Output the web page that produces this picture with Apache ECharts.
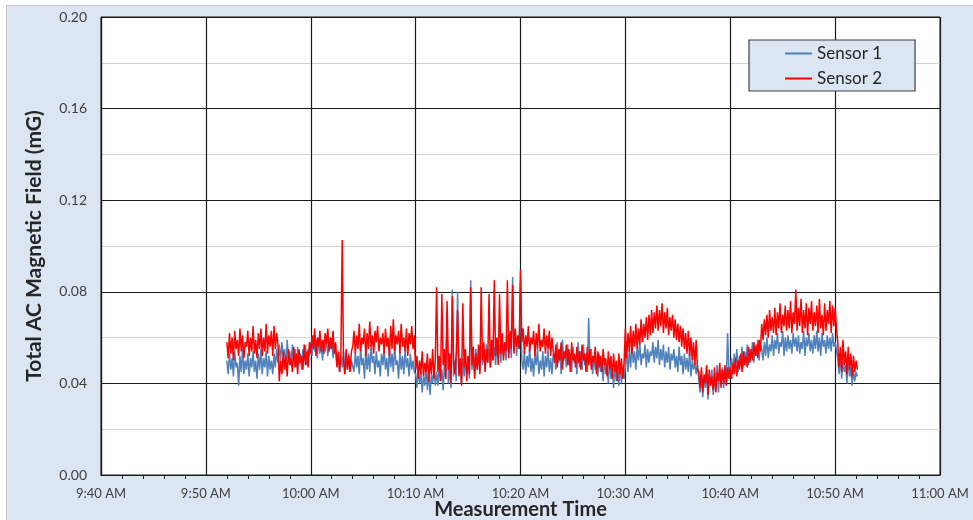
<!DOCTYPE html>
<html>
<head>
<meta charset="utf-8">
<script src="https://cdn.jsdelivr.net/npm/echarts@6/dist/echarts.min.js"></script>
<style>
  html, body { margin: 0; padding: 0; background: #fff; }
  #chart {
    position: absolute; left: 6px; top: 5px; width: 967px; height: 515px;
    box-sizing: border-box; border-left: 1px solid #c6c6c6; border-top: 1px solid #c6c6c6;
    background: #dce6f2;
  }
</style>
</head>
<body>
<div id="chart"></div>
<script>
// time axis in minutes after midnight, samples every 7.5 s from 9:52 AM
const startMinute = 592
const stepMinutes = 0.125
const axisMin = 580
const axisMax = 660
const yTicks = [0, 0.04, 0.08, 0.12, 0.16, 0.2]

// Sensor 1 (mG)
const sensor1 = [
  0.050,0.044,0.053,0.046,0.051,0.043,0.054,0.047,0.049,0.039,0.052,0.045,0.055,0.044,0.050,0.046,0.053,0.043,0.051,0.047,
  0.054,0.045,0.050,0.042,0.053,0.046,0.055,0.044,0.051,0.047,0.054,0.043,0.052,0.046,0.050,0.044,0.053,0.047,0.055,0.049,
  0.057,0.050,0.058,0.052,0.055,0.047,0.059,0.051,0.054,0.048,0.057,0.050,0.055,0.047,0.056,0.049,0.053,0.046,0.055,0.050,0.057,0.048,0.055,0.052,
  0.058,0.052,0.061,0.054,0.059,0.051,0.060,0.053,0.057,0.050,0.059,0.054,0.061,0.052,0.058,0.055,0.060,0.051,0.057,0.053,
  0.048,0.053,0.045,0.052,0.047,0.054,0.044,0.051,0.046,0.053,0.045,0.050,
  0.050,0.045,0.054,0.047,0.052,0.044,0.056,0.048,0.051,0.042,0.055,0.046,0.053,0.045,0.057,0.049,0.052,0.044,0.054,0.047,0.050,0.043,0.053,0.048,
  0.055,0.046,0.051,0.043,0.056,0.047,0.053,0.045,0.057,0.048,0.050,0.042,0.054,0.046,0.052,0.044,0.055,0.047,0.051,0.043,0.053,0.046,0.050,0.045,
  0.044,0.038,0.047,0.040,0.045,0.036,0.043,0.039,0.048,0.037,0.046,0.035,0.044,0.040,0.047,0.039,
  0.045,0.039,0.048,0.041,0.046,0.037,0.049,0.042,0.071,0.040,0.047,0.038,0.081,0.043,0.050,0.041,0.080,0.044,0.048,0.040,
  0.051,0.043,0.049,0.045,0.052,0.042,0.085,0.046,0.053,0.044,0.055,0.047,0.052,0.045,0.056,0.048,0.054,0.046,0.057,0.049,
  0.055,0.047,0.058,0.050,0.056,0.048,0.059,0.051,0.057,0.049,0.060,0.052,0.058,0.050,0.061,0.053,0.059,0.051,0.0865,0.054,
  0.062,0.052,0.060,0.055,
  0.085,0.050,0.046,0.054,0.044,0.052,0.047,0.056,0.045,0.051,0.043,0.053,0.048,0.055,0.044,0.050,0.046,0.054,0.043,0.052,0.047,0.055,0.045,0.051,0.044,0.053,
  0.052,0.046,0.058,0.049,0.055,0.044,0.059,0.050,0.054,0.047,0.057,0.048,0.053,0.045,0.056,0.049,0.052,0.044,0.058,0.047,
  0.054,0.046,0.057,0.048,0.053,0.045,0.0685,0.049,0.055,0.044,0.052,0.046,0.050,0.043,0.053,0.045,0.049,0.041,0.051,0.044,
  0.048,0.040,0.050,0.042,0.047,0.038,0.049,0.041,0.046,0.039,0.048,0.040,0.047,0.042,
  0.048,0.053,0.045,0.055,0.047,0.057,0.049,0.054,0.046,0.056,0.050,0.058,0.048,0.053,0.051,0.057,0.047,0.055,0.049,0.054,
  0.052,0.058,0.049,0.056,0.051,0.059,0.048,0.055,0.050,0.057,0.047,0.054,0.049,0.056,0.046,0.053,0.050,0.055,0.047,0.052,
  0.045,0.056,0.048,0.052,0.044,0.053,0.046,0.051,0.045,0.054,0.043,0.050,0.046,0.049,0.044,0.048,
  0.042,0.036,0.045,0.034,0.043,0.038,0.047,0.033,0.044,0.039,0.046,0.035,0.043,0.037,0.048,0.036,0.045,0.040,0.047,0.038,0.046,0.041,0.062,0.044,
  0.046,0.051,0.044,0.053,0.047,0.055,0.045,0.052,0.048,0.056,0.047,0.054,0.050,0.057,0.048,0.055,0.051,0.058,0.049,0.056,0.052,0.059,0.050,0.057,
  0.055,0.050,0.058,0.052,0.060,0.051,0.057,0.054,0.061,0.052,0.059,0.055,0.062,0.053,0.058,0.056,0.063,0.052,0.060,0.054,
  0.061,0.055,0.059,0.053,0.062,0.056,0.060,0.054,0.061,0.053,0.058,0.055,0.063,0.052,0.060,0.056,0.062,0.054,0.059,0.053,
  0.061,0.055,0.063,0.054,0.060,0.052,0.062,0.056,0.059,0.053,0.061,0.055,0.060,0.054,0.062,0.056,0.058,0.055,
  0.051,0.044,0.053,0.042,0.050,0.045,0.048,0.040,0.052,0.043,0.047,0.039,0.046,0.041,0.045,0.043
]

// Sensor 2 (mG)
const sensor2 = [
  0.058,0.051,0.062,0.053,0.060,0.050,0.063,0.055,0.059,0.052,0.064,0.054,0.061,0.051,0.058,0.056,0.063,0.052,0.060,0.054,
  0.065,0.053,0.059,0.051,0.062,0.055,0.064,0.052,0.060,0.054,0.066,0.053,0.061,0.056,0.063,0.052,0.065,0.055,0.062,0.057,
  0.041,0.050,0.044,0.054,0.046,0.052,0.043,0.055,0.048,0.051,0.045,0.056,0.047,0.053,0.044,0.055,0.049,0.052,0.046,0.057,0.048,0.054,0.047,0.058,
  0.053,0.061,0.055,0.064,0.052,0.060,0.056,0.063,0.054,0.059,0.053,0.062,0.057,0.064,0.054,0.060,0.055,0.063,0.053,0.058,
  0.047,0.054,0.045,0.053,0.1026,0.050,0.044,0.055,0.046,0.052,0.045,0.054,
  0.056,0.063,0.053,0.061,0.055,0.066,0.054,0.060,0.057,0.064,0.052,0.062,0.055,0.067,0.056,0.061,0.053,0.063,0.058,0.065,0.054,0.060,0.057,0.062,
  0.053,0.064,0.056,0.060,0.052,0.065,0.055,0.068,0.054,0.061,0.057,0.063,0.053,0.066,0.056,0.060,0.054,0.064,0.052,0.062,0.057,0.065,0.055,0.061,
  0.046,0.052,0.042,0.050,0.044,0.054,0.043,0.049,0.045,0.053,0.041,0.051,0.044,0.055,0.042,0.050,
  0.082,0.045,0.052,0.041,0.079,0.048,0.055,0.042,0.076,0.046,0.053,0.040,0.078,0.049,0.044,0.054,0.072,0.043,0.051,0.039,
  0.075,0.047,0.055,0.041,0.052,0.044,0.082,0.048,0.056,0.042,0.053,0.046,0.057,0.044,0.082,0.050,0.058,0.045,0.055,0.049,
  0.079,0.047,0.059,0.050,0.085,0.052,0.060,0.048,0.079,0.053,0.062,0.050,0.058,0.054,0.085,0.051,0.063,0.055,0.083,0.053,
  0.064,0.056,0.061,0.055,
  0.0895,0.058,0.064,0.053,0.061,0.056,0.065,0.054,0.060,0.057,0.063,0.052,0.062,0.055,0.066,0.054,0.059,0.056,0.064,0.053,0.061,0.055,0.063,0.052,0.060,0.054,
  0.049,0.057,0.047,0.055,0.050,0.058,0.046,0.054,0.051,0.057,0.048,0.055,0.045,0.058,0.050,0.053,0.047,0.056,0.049,0.054,
  0.046,0.057,0.050,0.053,0.045,0.056,0.048,0.055,0.046,0.052,0.049,0.056,0.044,0.054,0.047,0.052,0.045,0.055,0.048,0.051,
  0.043,0.054,0.046,0.052,0.042,0.053,0.045,0.050,0.041,0.053,0.044,0.051,0.042,0.049,
  0.064,0.051,0.062,0.054,0.065,0.053,0.063,0.056,0.066,0.055,0.064,0.057,0.068,0.058,0.066,0.060,0.069,0.059,0.070,0.061,
  0.072,0.062,0.071,0.064,0.074,0.063,0.072,0.065,0.075,0.062,0.071,0.064,0.073,0.061,0.069,0.063,0.070,0.060,0.068,0.059,
  0.066,0.058,0.065,0.056,0.064,0.055,0.062,0.053,0.063,0.052,0.060,0.050,0.058,0.048,0.059,0.046,
  0.045,0.038,0.047,0.036,0.044,0.040,0.048,0.035,0.046,0.039,0.043,0.037,0.047,0.036,0.045,0.041,0.049,0.038,0.046,0.040,0.048,0.039,0.047,0.042,
  0.047,0.042,0.049,0.044,0.051,0.043,0.050,0.046,0.053,0.045,0.054,0.048,0.052,0.047,0.056,0.049,0.055,0.050,0.058,0.052,0.057,0.051,0.059,0.054,
  0.066,0.059,0.068,0.061,0.070,0.060,0.072,0.063,0.069,0.062,0.073,0.061,0.071,0.064,0.075,0.062,0.070,0.065,0.074,0.063,
  0.072,0.064,0.076,0.062,0.071,0.066,0.081,0.063,0.073,0.065,0.077,0.062,0.072,0.064,0.075,0.061,0.073,0.066,0.076,0.063,
  0.071,0.065,0.074,0.062,0.077,0.064,0.070,0.061,0.075,0.063,0.072,0.066,0.076,0.062,0.074,0.065,0.073,0.064,
  0.058,0.047,0.056,0.045,0.059,0.048,0.054,0.044,0.056,0.046,0.053,0.043,0.052,0.045,0.050,0.046
]

const font = 'Lato, "Open Sans", sans-serif'

function toPairs(values) {
  return values.map((v, i) => [startMinute + i * stepMinutes, v])
}

function clockLabel(m) {
  const h = Math.floor(m / 60)
  const min = Math.round(m % 60)
  const h12 = h > 12 ? h - 12 : h
  return h12 + ':' + (min < 10 ? '0' + min : min) + (h >= 12 ? ' PM' : ' AM')
}

const chart = echarts.init(document.getElementById('chart'))
chart.setOption({
  animation: false,
  textStyle: { fontFamily: font },
  grid: {
    left: 94,
    right: 33,
    top: 11,
    bottom: 45,
    outerBoundsMode: 'none',
    show: true,
    backgroundColor: '#ffffff',
    borderColor: '#1a1a1a',
    borderWidth: 1
  },
  legend: {
    orient: 'vertical',
    left: 742,
    top: 34,
    padding: [5, 33, 4, 36],
    backgroundColor: '#dce6f2',
    borderColor: '#404040',
    borderWidth: 1.2,
    icon: 'rect',
    itemWidth: 27,
    itemHeight: 2,
    itemGap: 8,
    textStyle: { fontSize: 17, color: '#262626', fontFamily: font },
    data: ['Sensor 1', 'Sensor 2']
  },
  xAxis: {
    type: 'value',
    min: axisMin,
    max: axisMax,
    interval: 10,
    name: 'Measurement Time',
    nameLocation: 'middle',
    nameMoveOverlap: false,
    nameGap: 25,
    nameTextStyle: { fontSize: 20, fontWeight: 'bold', color: '#262626' },
    axisLine: { lineStyle: { color: '#1a1a1a', width: 1.2 } },
    axisTick: { show: false },
    minorTick: { show: true, splitNumber: 5, length: 4, lineStyle: { color: '#1a1a1a' } },
    axisLabel: {
      fontSize: 13,
      color: '#404040',
      margin: 12,
      formatter: clockLabel
    },
    splitLine: { show: true, lineStyle: { color: '#1a1a1a', width: 1.2 } }
  },
  yAxis: {
    type: 'value',
    min: yTicks[0],
    max: yTicks[yTicks.length - 1],
    interval: 0.04,
    name: 'Total AC Magnetic Field (mG)',
    nameLocation: 'middle',
    nameMoveOverlap: false,
    nameGap: 56,
    nameTextStyle: { fontSize: 21, fontWeight: 'bold', color: '#262626' },
    axisLine: { show: true, lineStyle: { color: '#1a1a1a', width: 1.2 } },
    axisTick: { show: false },
    axisLabel: {
      fontSize: 14,
      color: '#404040',
      margin: 14,
      formatter: v => v.toFixed(2)
    },
    splitLine: { show: true, lineStyle: { color: '#1a1a1a', width: 1.2 } },
    minorTick: { show: false, splitNumber: 2 },
    minorSplitLine: { show: true, lineStyle: { color: '#d4d4d4', width: 1.2 } }
  },
  series: [
    {
      name: 'Sensor 1',
      type: 'line',
      symbol: 'none',
      data: toPairs(sensor1),
      itemStyle: { color: '#4f81bd' },
      lineStyle: { color: '#4f81bd', width: 1.5 }
    },
    {
      name: 'Sensor 2',
      type: 'line',
      symbol: 'none',
      data: toPairs(sensor2),
      itemStyle: { color: '#ff0000' },
      lineStyle: { color: '#ff0000', width: 1.5 }
    }
  ]
})
</script>
</body>
</html>
